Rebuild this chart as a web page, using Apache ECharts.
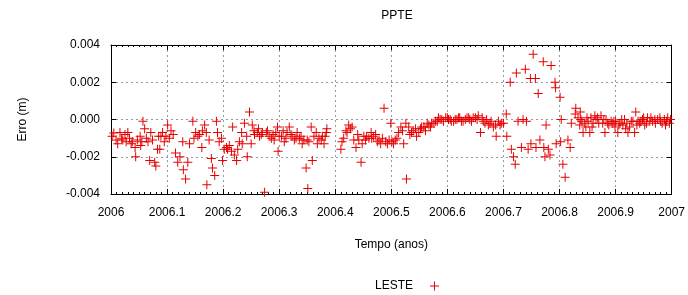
<!DOCTYPE html>
<html>
<head>
<meta charset="utf-8">
<script src="https://cdn.jsdelivr.net/npm/echarts@6/dist/echarts.min.js"></script>
<style>
html,body{margin:0;padding:0;background:#fff;}
#chart{width:688px;height:295px;}
</style>
</head>
<body>
<div id="chart"></div>
<script>
// Time (decimal years) and east error (m)
const tYears = [
2006.005,2006.012,2006.016,2006.021,2006.027,2006.030,2006.036,2006.043,2006.044,2006.052,2006.053,2006.057,2006.060,2006.066,2006.069,2006.071,2006.078,2006.080,2006.083,2006.087,2006.089,2006.092,2006.098,2006.101,2006.107,
2006.115,2006.119,2006.123,2006.128,2006.129,2006.133,2006.137,2006.140,2006.146,2006.151,2006.155,
2006.162,2006.163,2006.167,2006.170,2006.171,2006.179,2006.181,2006.185,2006.188,2006.190,2006.197,2006.199,2006.206,2006.208,2006.215,2006.217,2006.220,2006.224,2006.226,2006.233,2006.234,2006.238,2006.242,2006.243,2006.247,2006.250,2006.252,2006.256,2006.261,2006.265,2006.270,2006.274,2006.277,2006.282,2006.286,2006.291,2006.297,2006.298,2006.304,2006.309,2006.314,2006.318,2006.323,2006.330,2006.332,
2006.336,2006.341,2006.348,2006.350,2006.351,2006.357,2006.359,2006.362,2006.366,2006.368,2006.375,2006.377,2006.380,2006.384,2006.385,
2006.410,2006.412,2006.419,2006.421,2006.424,2006.430,2006.433,2006.437,2006.442,2006.446,2006.448,2006.451,2006.456,2006.464,2006.465,2006.472,2006.478,2006.481,2006.487,2006.490,2006.496,2006.499,2006.501,2006.504,2006.510,2006.513,2006.517,2006.522,2006.526,2006.527,2006.531,2006.536,2006.543,2006.545,2006.549,2006.554,2006.561,2006.567,2006.572,2006.579,2006.584,2006.590,2006.597,2006.602,2006.607,2006.614,2006.620,2006.625,2006.632,2006.638,2006.643,2006.650,2006.655,2006.659,2006.664,2006.670,
2006.673,2006.678,2006.686,2006.687,2006.691,2006.696,2006.705,2006.706,2006.712,2006.714,2006.718,2006.721,2006.723,2006.726,2006.732,2006.735,2006.739,2006.741,2006.744,2006.748,2006.749,2006.753,2006.757,2006.758,2006.762,2006.765,2006.771,2006.772,2006.774,2006.776,2006.780,2006.783,2006.785,2006.792,2006.793,2006.794,2006.801,2006.802,2006.803,2006.806,2006.810,2006.815,2006.819,2006.821,2006.828,2006.829,2006.833,2006.836,2006.837,2006.838,
2006.842,2006.845,2006.847,2006.851,2006.854,2006.856,2006.860,2006.863,2006.865,2006.868,2006.874,2006.877,2006.881,2006.883,2006.886,2006.892,2006.895,2006.899,2006.900,2006.904,2006.908,2006.913,2006.916,2006.918,2006.922,2006.925,2006.931,2006.934,2006.936,2006.940,2006.943,2006.948,2006.952,2006.957,2006.961,2006.963,2006.970,2006.971,2006.979,2006.980,2006.987,2006.989,2006.993,2006.996,
2006.002,2006.009,2006.019,2006.025,2006.033,2006.038,2006.047,2006.055,2006.063,2006.074,2006.085,2006.095,2006.104,2006.111,
2006.148,2006.158,2006.175,2006.193,2006.202,2006.211,2006.229,2006.255,2006.263,2006.268,2006.279,2006.289,2006.294,2006.300,2006.307,2006.312,2006.321,2006.327,2006.339,2006.344,2006.353,2006.371,2006.382,
2006.415,2006.427,2006.440,2006.454,2006.460,2006.468,2006.475,2006.484,2006.493,2006.507,2006.520,2006.533,2006.539,2006.552,2006.558,2006.564,2006.570,2006.576,2006.582,2006.587,2006.593,2006.600,2006.605,2006.611,2006.617,2006.622,2006.628,2006.635,2006.640,2006.646,2006.653,2006.662,2006.667,2006.676,2006.682,2006.694,2006.700,
2006.840,2006.849,2006.858,2006.870,2006.879,2006.888,2006.897,2006.906,2006.911,2006.920,2006.928,2006.938,2006.945,2006.950,2006.955,2006.966,2006.975,2006.983,2006.991,2006.998
];
const lesteErr = [
-0.00073,-0.0013,-0.0007,-0.0011,-0.0012,-0.0007,-0.0013,-0.0015,-0.0020,-0.0009,-0.0014,-0.0001,-0.0005,-0.0012,-0.0022,-0.0007,-0.0023,-0.0025,-0.0016,-0.0016,-0.0009,-0.0007,-0.0009,-0.0003,-0.0006,
-0.0018,-0.0023,-0.0020,-0.0012,-0.0027,-0.0032,-0.0023,-0.0013,-0.0001,-0.0007,-0.0009,
-0.0015,-0.0006,-0.0003,-0.0007,-0.0035,-0.0021,-0.0026,-0.0030,-0.0001,-0.0007,-0.0010,-0.0022,-0.0015,-0.0016,-0.0017,-0.0004,-0.0019,-0.0022,-0.0016,-0.0007,-0.0013,-0.0002,-0.0009,-0.0020,0.0004,-0.0013,-0.0003,-0.0008,-0.0007,-0.0009,-0.0007,-0.0039,-0.0007,-0.0009,-0.0010,-0.0011,-0.0004,-0.0017,-0.0009,-0.0012,-0.0007,-0.0004,-0.0009,-0.0010,-0.0007,
-0.0010,-0.0013,-0.0026,-0.0011,-0.0037,-0.0004,-0.0022,-0.0009,-0.0007,-0.0013,-0.0011,-0.0009,-0.0013,-0.0007,-0.0005,
-0.0016,-0.0012,-0.0006,-0.0007,-0.0003,-0.0004,-0.0011,-0.0015,-0.0011,-0.0023,-0.0013,-0.0009,-0.0009,-0.0007,-0.0010,-0.0008,-0.0011,-0.0013,0.0006,-0.0012,-0.0011,-0.0002,-0.0012,-0.0013,-0.0010,-0.0007,-0.0004,-0.0013,-0.0002,-0.0032,-0.0004,-0.0007,-0.0005,-0.0009,-0.0007,-0.0004,-0.0006,-0.0003,-0.0002,-0.0001,0.0001,0.0000,0.0001,0.0000,-0.0001,0.0000,0.0001,-0.0001,0.0000,0.0001,-0.0001,0.0001,0.0002,-0.0007,-0.0001,0.0000,
-0.0003,-0.0001,-0.0003,-0.0009,-0.0001,-0.0002,0.0003,-0.0009,0.0020,-0.0016,-0.0020,-0.0024,0.0025,-0.0001,-0.0015,0.0000,0.0027,-0.0001,-0.0016,0.0022,-0.0013,0.0035,0.0022,-0.0015,0.0014,-0.0011,0.0031,-0.0015,-0.0020,-0.0003,-0.0016,-0.0019,0.0029,0.0020,0.0017,-0.0013,0.0012,-0.0012,0.0000,-0.0024,-0.0031,-0.0011,-0.0015,-0.0002,0.0003,0.0006,0.0001,-0.0003,0.0004,0.0000,
-0.0007,-0.0002,-0.0004,-0.0001,-0.0007,0.0001,-0.0002,0.0002,0.0000,0.0001,0.0002,-0.0002,-0.0007,0.0000,-0.0002,-0.0001,-0.0002,-0.0004,-0.0001,-0.0007,-0.0002,-0.0003,0.0000,-0.0005,-0.0007,-0.0004,-0.0001,-0.0007,0.0004,-0.0001,-0.0002,0.0000,-0.0003,0.0001,-0.0001,0.0001,0.0000,-0.0002,0.0001,-0.0001,0.0000,-0.0003,0.0001,-0.0002,
-0.0009,-0.0011,-0.0010,-0.0008,-0.0010,-0.0012,-0.0011,-0.0012,-0.0010,-0.0011,-0.0009,-0.0012,-0.0010,-0.0008,
-0.0010,-0.0008,-0.0011,-0.0012,-0.0016,-0.0014,-0.0012,-0.0006,-0.0005,-0.0008,-0.0006,-0.0008,-0.0007,-0.0009,-0.0006,-0.0010,-0.0008,-0.0011,-0.0009,-0.0011,-0.0012,-0.0010,-0.0009,
-0.0010,-0.0005,-0.0008,-0.0011,-0.0010,-0.0009,-0.0012,-0.0010,-0.0013,-0.0011,-0.0006,-0.0008,-0.0006,-0.0005,-0.0004,-0.0002,-0.0004,-0.0002,-0.0001,0.0000,-0.0001,0.0001,0.0000,-0.0001,0.0000,0.0001,-0.0001,0.0001,0.0000,0.0001,0.0000,0.0001,-0.0002,-0.0002,-0.0004,-0.0003,-0.0002,
-0.0001,0.0001,-0.0004,-0.0002,0.0000,-0.0003,-0.0001,-0.0003,0.0000,-0.0002,-0.0001,-0.0003,-0.0001,0.0001,-0.0002,-0.0001,0.0000,-0.0002,-0.0001,0.0000
];
const xMin = 2006, xMax = 2007, xStep = 0.1;
const yMin = -0.004, yMax = 0.004, yStep = 0.002;
const titleText = 'PPTE';
const xName = 'Tempo (anos)';
const yName = 'Erro (m)';
const seriesName = 'LESTE';

const points = tYears.map((t, i) => [t, lesteErr[i]]);
const plus = 'path://M4,0H5V4H9V5H5V9H4V5H0V4H4Z';
const red = '#e60000';
const font = 'Liberation Sans, Arial, sans-serif';

const chart = echarts.init(document.getElementById('chart'));
const xFmt = v => String(parseFloat(v.toFixed(1)));
const yFmt = v => v.toFixed(3);
const gridLine = {show: true, lineStyle: {color: '#999', type: [2, 3], width: 1}};
chart.setOption({
  animation: false,
  backgroundColor: '#fff',
  title: {text: titleText, left: 392, top: 5, textAlign: 'center',
    textStyle: {fontFamily: font, fontSize: 12, fontWeight: 'normal', color: '#000'}},
  legend: {data: [{name: seriesName, icon: plus}], left: 370, top: 275, align: 'right',
    itemWidth: 9, itemHeight: 9, itemGap: 10,
    textStyle: {fontFamily: font, fontSize: 12, color: '#000', padding: [0, 12, 0, 0]}},
  grid: {left: 111, right: 14, top: 45, bottom: 101, show: false},
  xAxis: [{
    type: 'value', min: xMin, max: xMax, interval: xStep,
    name: xName, nameLocation: 'middle', nameGap: 45,
    nameTextStyle: {fontFamily: font, fontSize: 12, color: '#000'},
    axisLine: {show: true, onZero: false, lineStyle: {color: '#000', width: 1}},
    axisTick: {show: true, inside: true, length: 5, lineStyle: {color: '#000'}},
    minorTick: {show: true, splitNumber: 10, length: 2, lineStyle: {color: '#000'}},
    axisLabel: {formatter: xFmt, fontFamily: font, fontSize: 12, color: '#000', margin: 13},
    splitLine: gridLine
  }, {
    type: 'value', position: 'top', min: xMin, max: xMax, interval: xStep,
    axisLine: {show: true, onZero: false, lineStyle: {color: '#000', width: 1}},
    axisTick: {show: true, inside: true, length: 5, lineStyle: {color: '#000'}},
    minorTick: {show: true, splitNumber: 10, length: 2, lineStyle: {color: '#000'}},
    axisLabel: {show: false}, splitLine: {show: false}
  }],
  yAxis: [{
    type: 'value', min: yMin, max: yMax, interval: yStep,
    name: yName, nameLocation: 'middle', nameGap: 82, nameRotate: 90,
    nameTextStyle: {fontFamily: font, fontSize: 12, color: '#000'},
    axisLine: {show: true, onZero: false, lineStyle: {color: '#000', width: 1}},
    axisTick: {show: true, inside: true, length: 5, lineStyle: {color: '#000'}},
    axisLabel: {formatter: yFmt, fontFamily: font, fontSize: 12, color: '#000', margin: 11},
    splitLine: gridLine
  }, {
    type: 'value', position: 'right', min: yMin, max: yMax, interval: yStep,
    axisLine: {show: true, onZero: false, lineStyle: {color: '#000', width: 1}},
    axisTick: {show: true, inside: true, length: 5, lineStyle: {color: '#000'}},
    axisLabel: {show: false}, splitLine: {show: false}
  }],
  series: [{
    name: seriesName, type: 'scatter', xAxisIndex: 0, yAxisIndex: 0,
    data: points, symbol: plus, symbolSize: 9,
    itemStyle: {color: red, opacity: 1}
  }]
});
</script>
</body>
</html>
